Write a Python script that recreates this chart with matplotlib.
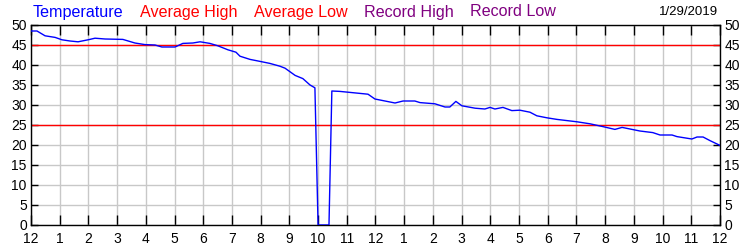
import numpy as np
import matplotlib.pyplot as plt

plt.rcParams['font.family'] = ['Liberation Sans', 'DejaVu Sans']

# hours since midnight, temperature
hours = [0.0, 0.21, 0.49, 0.84, 1.08, 1.36, 1.64, 1.99, 2.23, 2.58, 3.20, 3.62, 3.97,
         4.32, 4.56, 5.02, 5.29, 5.64, 5.89, 6.23, 6.51, 6.86, 7.14, 7.28, 7.63, 7.91,
         8.32, 8.67, 8.85, 9.20, 9.47, 9.72, 9.89, 10.0, 10.38, 10.48, 10.76, 11.04,
         11.46, 11.74, 11.98, 12.33, 12.68, 12.96, 13.37, 13.55, 14.07, 14.42, 14.59,
         14.80, 15.01, 15.47, 15.81, 15.99, 16.16, 16.44, 16.75, 17.03, 17.38, 17.62,
         17.97, 18.32, 19.02, 19.47, 19.92, 20.34, 20.59, 21.21, 21.66, 21.91, 22.33,
         22.50, 23.02, 23.20, 23.41, 23.65, 24.0]
temps = [48.5, 48.5, 47.3, 46.9, 46.3, 46.0, 45.8, 46.3, 46.7, 46.5, 46.4, 45.5, 45.1,
         45.0, 44.5, 44.5, 45.4, 45.5, 45.8, 45.4, 44.8, 43.8, 43.2, 42.2, 41.4, 41.0,
         40.4, 39.7, 39.2, 37.4, 36.6, 35.0, 34.3, 0.0, 0.0, 33.5, 33.4, 33.2,
         32.9, 32.7, 31.5, 31.0, 30.5, 31.0, 31.0, 30.6, 30.3, 29.5, 29.5,
         30.9, 29.8, 29.2, 29.0, 29.4, 29.0, 29.4, 28.6, 28.7, 28.2, 27.3,
         26.8, 26.4, 25.8, 25.3, 24.6, 23.9, 24.4, 23.5, 23.1, 22.5, 22.5,
         22.1, 21.5, 22.0, 22.0, 21.1, 19.9]
avg_high = 45
avg_low = 25
hour_labels = ['12', '1', '2', '3', '4', '5', '6', '7', '8', '9', '10', '11',
               '12', '1', '2', '3', '4', '5', '6', '7', '8', '9', '10', '11', '12']
legend = [('Temperature', '#0000ff'), ('Average High', '#ff0000'), ('Average Low', '#ff0000'),
          ('Record High', '#800080'), ('Record Low', '#800080')]

fig = plt.figure(figsize=(7.5, 2.5), dpi=100)
ax = fig.add_axes([0.0413, 0.1, 0.9187, 0.8])

ax.plot(hours, temps, color='#0000ff', lw=1, zorder=3)
ax.axhline(avg_high, color='#ff0000', lw=1, zorder=2)
ax.axhline(avg_low, color='#ff0000', lw=1, zorder=2)

ax.set_xlim(0, 24)
ax.set_ylim(0, 50)
ax.set_xticks(np.arange(0, 25))
ax.set_xticklabels(hour_labels)
ax.set_yticks(np.arange(0, 51, 5))
ax.grid(True, color='#c8c8c8', lw=1)
ax.set_axisbelow(True)
ax.tick_params(axis='x', direction='in', length=7, width=1, top=True, labelsize=10, pad=5)
ax.tick_params(axis='y', direction='in', length=5, width=1, right=True, labelright=True,
               labelsize=10, pad=3)
for s in ax.spines.values():
    s.set_linewidth(1)

xpos = 0.044
for txt, c in legend:
    t = fig.text(xpos, 0.952, txt, color=c, fontsize=11.6, va='center', ha='left')
    fig.canvas.draw()
    bb = t.get_window_extent()
    xpos += bb.width / 750 + 0.022
fig.text(0.958, 0.952, '1/29/2019', fontsize=9.5, va='center', ha='right')

fig.savefig('out.png', dpi=100)
